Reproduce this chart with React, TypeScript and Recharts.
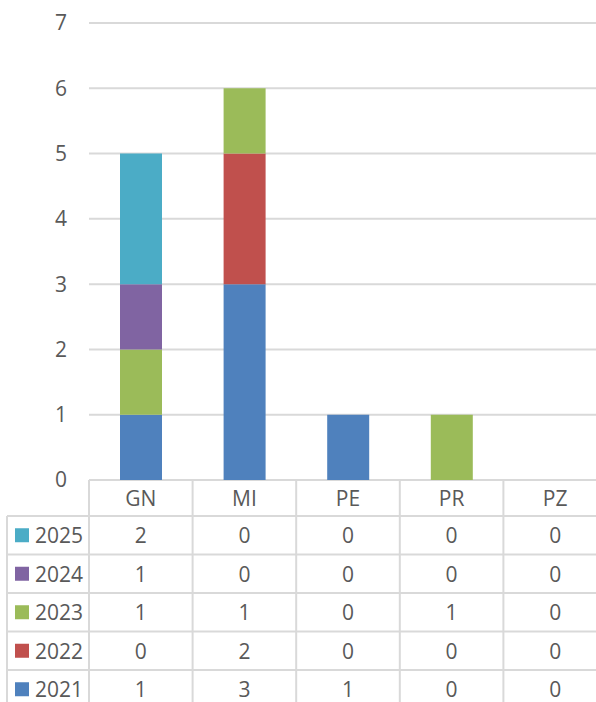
import React from 'react';
import { BarChart, Bar, XAxis, YAxis, CartesianGrid } from 'recharts';

// Chart data
const categories = ['GN', 'MI', 'PE', 'PR', 'PZ'];
const years = ['2021', '2022', '2023', '2024', '2025'];
const values2021 = [1, 3, 1, 0, 0];
const values2022 = [0, 2, 0, 0, 0];
const values2023 = [1, 1, 0, 1, 0];
const values2024 = [1, 0, 0, 0, 0];
const values2025 = [2, 0, 0, 0, 0];
const yTicks = [0, 1, 2, 3, 4, 5, 6, 7];

const seriesValues = [values2021, values2022, values2023, values2024, values2025];
const COLORS = ['#4F81BD', '#C0504D', '#9BBB59', '#8064A2', '#4BACC6'];

const data = categories.map((name, i) => {
    const row: Record<string, string | number> = { name };
    years.forEach((y, s) => {
        row[y] = seriesValues[s][i];
    });
    return row;
});

// layout
const CHART_W = 607;
const CHART_H = 702;
const PLOT_LEFT = 89;
const BAND = (CHART_W - PLOT_LEFT) / categories.length;
const HEADER_H = 36;
const ROW_H = 38.5;
const GRID = '#D9D9D9';
const TEXT = '#595959';
const FONT = '"Open Sans", sans-serif';
const FS = 21;

// table rows, top to bottom: newest year first
const tableRows = years.map((y, s) => ({ year: y, values: seriesValues[s], color: COLORS[s] })).reverse();

const TableColumn = (props: any) => {
    const { x, y, payload, index } = props;
    const left = x - BAND / 2;
    const bottom = CHART_H;
    const lines: React.ReactNode[] = [];
    // vertical border on the left of each column
    lines.push(<line key="v" x1={left} y1={y} x2={left} y2={bottom} stroke={GRID} strokeWidth={2} />);
    for (let r = 0; r < tableRows.length; r++) {
        const ly = y + HEADER_H + r * ROW_H;
        lines.push(<line key={`h${r}`} x1={left} y1={ly} x2={left + BAND} y2={ly} stroke={GRID} strokeWidth={2} />);
    }
    return (
        <g>
            {lines}
            <text x={x} y={y + HEADER_H / 2} textAnchor="middle" dominantBaseline="central"
                fill={TEXT} fontSize={FS} fontFamily={FONT}>{payload.value}</text>
            {tableRows.map((row, r) => (
                <text key={row.year} x={x} y={y + HEADER_H + r * ROW_H + ROW_H / 2} textAnchor="middle"
                    dominantBaseline="central" fill={TEXT} fontSize={FS} fontFamily={FONT}>
                    {row.values[index]}
                </text>
            ))}
            {index === 0 && (
                <g>
                    <line x1={7} y1={y + HEADER_H} x2={7} y2={bottom} stroke={GRID} strokeWidth={2} />
                    {tableRows.map((row, r) => {
                        const top = y + HEADER_H + r * ROW_H;
                        return (
                            <g key={row.year}>
                                <line x1={7} y1={top} x2={left} y2={top} stroke={GRID} strokeWidth={2} />
                                <rect x={15} y={top + ROW_H / 2 - 7} width={14} height={14} fill={row.color} />
                                <text x={35} y={top + ROW_H / 2} dominantBaseline="central"
                                    fill={TEXT} fontSize={FS} fontFamily={FONT}>{row.year}</text>
                            </g>
                        );
                    })}
                </g>
            )}
        </g>
    );
};

export default function App() {
    return (
        <div style={{ position: 'absolute', left: 0, top: 0, width: 596, height: 702, overflow: 'hidden', background: '#fff' }}>
            <BarChart width={CHART_W} height={CHART_H} data={data}
                margin={{ top: 23, right: 0, bottom: 0, left: 0 }}>
                <CartesianGrid vertical={false} stroke={GRID} strokeWidth={2} />
                <YAxis type="number" domain={[0, 7]} ticks={yTicks} width={PLOT_LEFT}
                    axisLine={false} tickLine={false} tickSize={0} tickMargin={22}
                    tick={{ fill: TEXT, fontSize: FS, fontFamily: FONT }} />
                <XAxis dataKey="name" height={CHART_H - 480} interval={0}
                    axisLine={false} tickLine={false} tickSize={0} tickMargin={0}
                    tick={<TableColumn />} />
                {years.map((y, s) => (
                    <Bar key={y} dataKey={y} stackId="a" fill={COLORS[s]} barSize={42} isAnimationActive={false} />
                ))}
            </BarChart>
        </div>
    );
}
